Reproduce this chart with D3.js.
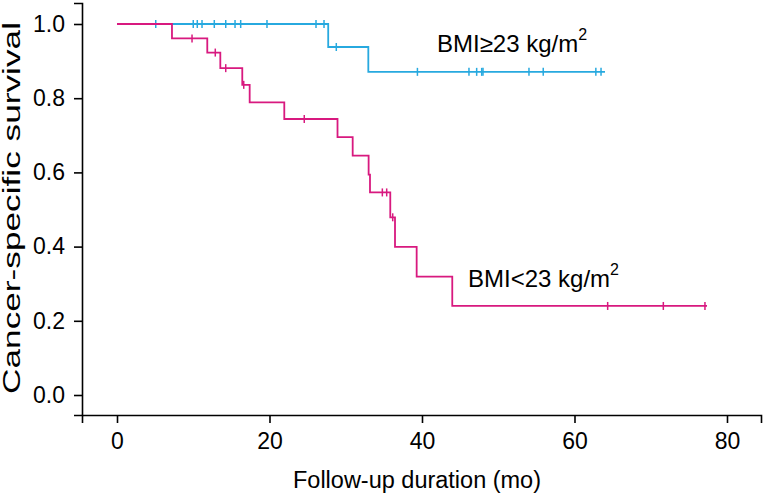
<!DOCTYPE html>
<html><head><meta charset="utf-8">
<script src="https://cdn.jsdelivr.net/npm/d3@7"></script>
<style>body{margin:0;background:#fff}svg{display:block}text{font-family:"Liberation Sans",Arial,sans-serif}</style>
</head><body><svg id="c" width="765" height="497"></svg>
<script>
// BMI >= 23 kg/m2 (blue)
const highTimes = [0, 27.7, 32.96];
const highSurv = [1.0, 0.938, 0.871];
const highEnd = 64.0;
const highCensor = [5.08, 10.0, 10.53, 11.15, 12.76, 14.26, 15.48, 16.22, 19.67, 26.1, 27.15, 28.76, 39.4, 46.16, 47.17, 47.83, 48.0, 54.03, 55.9, 62.8, 63.48];
// BMI < 23 kg/m2 (magenta)
const lowTimes = [0, 7.21, 11.84, 13.55, 16.43, 17.4, 21.94, 28.92, 30.91, 33.0, 33.18, 35.84, 36.46, 39.3, 43.97];
const lowSurv = [1.0, 0.961, 0.923, 0.881, 0.836, 0.789, 0.744, 0.695, 0.645, 0.594, 0.546, 0.479, 0.399, 0.319, 0.240];
const lowEnd = 77.38;
const lowCensor = [9.84, 12.89, 14.26, 16.62, 24.56, 34.8, 35.37, 36.16, 64.35, 71.65, 77.11];
const xTicks = [0, 20, 40, 60, 80];
const yTicks = [0.0, 0.2, 0.4, 0.6, 0.8, 1.0];

const svg = d3.select("#c");
const x = d3.scaleLinear().domain([-4.59, 84.46]).range([82, 761]);
const y = d3.scaleLinear().domain([-0.0539, 1.0566]).range([415, 3]);

function survAt(times, surv, t){ let s = surv[0]; for (let i=0;i<times.length;i++){ if (times[i] <= t) s = surv[i]; } return s; }

function drawCurve(times, surv, end, censor, color){
  const pts = times.map((t,i)=>[t, surv[i]]);
  pts.push([end, surv[surv.length-1]]);
  const line = d3.line().x(d=>x(d[0])).y(d=>y(d[1])).curve(d3.curveStepAfter);
  svg.append("path").attr("d", line(pts)).attr("fill","none").attr("stroke",color).attr("stroke-width",1.8);
  svg.append("g").selectAll("line").data(censor).join("line")
    .attr("x1", d=>x(d)).attr("x2", d=>x(d))
    .attr("y1", d=>y(survAt(times,surv,d))-4).attr("y2", d=>y(survAt(times,surv,d))+4)
    .attr("stroke", color).attr("stroke-width",1.5);
}

drawCurve(highTimes, highSurv, highEnd, highCensor, "#27a9df");
drawCurve(lowTimes, lowSurv, lowEnd, lowCensor, "#d8197f");

const xAxis = d3.axisBottom(x).tickValues(xTicks).tickFormat(d3.format("d")).tickSize(8).tickSizeOuter(8).tickPadding(10);
const gx = svg.append("g").attr("transform","translate(0,415)").call(xAxis);
const yAxis = d3.axisLeft(y).tickValues(yTicks).tickFormat(d3.format(".1f")).tickSize(8).tickSizeOuter(8).tickPadding(9);
const gy = svg.append("g").attr("transform","translate(82,0)").call(yAxis);
[gx, gy].forEach(g=>{
  g.selectAll("path,line").attr("stroke","#000").attr("stroke-width",1.6);
  g.selectAll("text").attr("font-size",23).attr("fill","#000").attr("font-family","'Liberation Sans',Arial,sans-serif");
});

svg.append("text").attr("x",417).attr("y",488).attr("text-anchor","middle").attr("font-size",23)
  .attr("textLength",248).attr("lengthAdjust","spacingAndGlyphs").text("Follow-up duration (mo)");
svg.append("text").attr("transform","translate(20,208) rotate(-90)").attr("text-anchor","middle").attr("font-size",23)
  .attr("textLength",372).attr("lengthAdjust","spacingAndGlyphs").text("Cancer-specific survival");

function label(xp, yp, main){
  const t = svg.append("text").attr("x",xp).attr("y",yp).attr("font-size",24);
  t.append("tspan").text(main);
  t.append("tspan").attr("dy",-12).attr("font-size",16).text("2");
}
label(437, 52, "BMI\u226523 kg/m");
label(468, 287, "BMI<23 kg/m");
</script></body></html>
